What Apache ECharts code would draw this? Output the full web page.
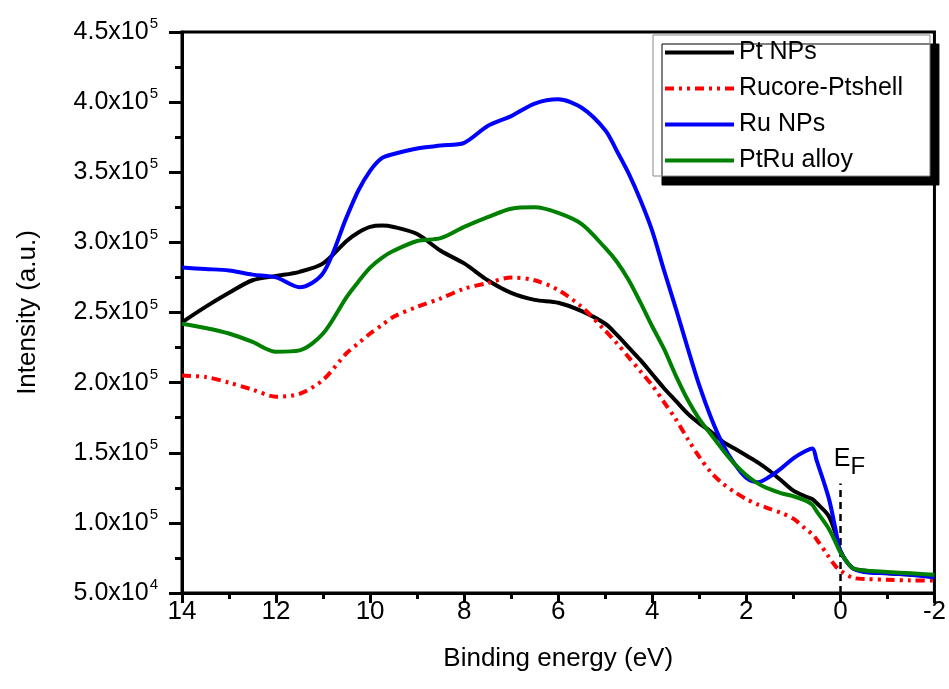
<!DOCTYPE html>
<html>
<head>
<meta charset="utf-8">
<script src="https://cdn.jsdelivr.net/npm/echarts@6/dist/echarts.min.js"></script>
<style>
  html, body { margin: 0; padding: 0; background: #fff; }
  #chart { width: 949px; height: 689px; }
</style>
</head>
<body>
<div id="chart"></div>
<script>
// binding energy (eV)
const energy = [14, 13.5, 13, 12.5, 12, 11.5, 11, 10.5, 10.25, 10, 9.75, 9.5, 9, 8.5, 8, 7.5, 7, 6.5, 6, 5.5, 5, 4.75, 4.5, 4.25, 4, 3.75, 3.5, 3.25, 3, 2.75, 2.5, 2.25, 2, 1.75, 1.5, 1.25, 1, 0.75, 0.6, 0.5, 0.25, 0.1, 0, -0.25, -0.5, -1, -1.5, -2]

// intensities, in units of 1000
const ptNPs = [243, 254, 264, 273, 276, 279, 285, 301, 307, 311, 312, 311, 306, 294, 285, 273, 264, 259, 257, 251, 242, 234, 225, 216, 206, 196, 187, 178, 171, 165, 158, 153, 148, 143, 137, 130, 123, 119, 117, 114, 105, 92, 80, 68, 66, 64, 63, 62]
const rucorePtshell = [205, 204, 200, 195, 190, 192, 202, 221, 228, 235, 241, 247, 254, 260, 267, 271, 275, 273, 266, 254, 237, 228, 218, 208, 198, 186, 174, 160, 147, 136, 128, 122, 117, 113, 110, 107, 103, 96, 92, 88, 76, 69, 66, 61, 60, 59.5, 59, 59]
const ruNPs = [282, 281, 280, 277, 275, 268, 278, 318, 337, 351, 360, 363, 367, 369, 371, 383, 390, 399, 402, 396, 380, 365, 349, 330, 308, 280, 253, 225, 198, 175, 156, 142, 132, 129, 133, 139, 146, 151, 153, 144, 118, 95, 80, 68, 65, 64, 63, 61]
const ptRuAlloy = [242, 239, 235, 229, 222, 223, 235, 261, 272, 282, 289, 294, 301, 303, 311, 318, 324, 325, 321, 313, 296, 286, 273, 257, 240, 224, 205, 188, 174, 163, 152, 142, 134, 128, 124, 121, 119, 116, 113, 108, 96, 86, 79, 68, 66, 65, 64, 63]

const seriesNames = ['Pt NPs', 'Rucore-Ptshell', 'Ru NPs', 'PtRu alloy']
const seriesColors = ['#000000', '#ff0000', '#0000ff', '#008000']
const yTicks = [
  { value: 50000, mant: '5.0', exp: '4' },
  { value: 100000, mant: '1.0', exp: '5' },
  { value: 150000, mant: '1.5', exp: '5' },
  { value: 200000, mant: '2.0', exp: '5' },
  { value: 250000, mant: '2.5', exp: '5' },
  { value: 300000, mant: '3.0', exp: '5' },
  { value: 350000, mant: '3.5', exp: '5' },
  { value: 400000, mant: '4.0', exp: '5' },
  { value: 450000, mant: '4.5', exp: '5' },
]

const font = 'Liberation Sans, Arial, sans-serif'

function pairs(vals) {
  let out = []
  for (let i = 0; i < energy.length; i++) {
    out.push([energy[i], vals[i] * 1000])
  }
  return out
}

function initChart() {
  const myChart = echarts.init(document.getElementById('chart'))
  const allVals = [ptNPs, rucorePtshell, ruNPs, ptRuAlloy]

  let series = []
  for (let i = 0; i < allVals.length; i++) {
    let s = {
      name: seriesNames[i],
      type: 'line',
      data: pairs(allVals[i]),
      symbol: 'none',
      smooth: 0.3,
      lineStyle: { color: seriesColors[i], width: 4 },
      itemStyle: { color: seriesColors[i] },
      z: 3 + i,
    }
    if (i === 1) {
      // dash-dot-dot
      s.lineStyle.type = [9, 5, 3, 5, 3, 5]
    }
    series.push(s)
  }
  // Fermi level marker
  series[0].markLine = {
    silent: true,
    symbol: 'none',
    lineStyle: { color: '#000', type: [7, 5], width: 2.5 },
    label: {
      show: true,
      position: 'end',
      distance: 4,
      formatter: '{e|E}{f|F}',
      rich: {
        e: { fontSize: 25, fontFamily: font, color: '#000', padding: [0, 0, 0, 18] },
        f: { fontSize: 24, fontFamily: font, color: '#000', padding: [16, 0, 0, 0] },
      },
    },
    data: [[{ coord: [0, 50000] }, { coord: [0, 128000] }]],
  }

  const option = {
    animation: false,
    backgroundColor: '#fff',
    grid: {
      left: 182,
      right: 12,
      top: 32,
      bottom: 96,
      show: true,
      borderColor: '#000',
      borderWidth: 3,
      backgroundColor: 'transparent',
    },
    legend: {
      orient: 'vertical',
      left: 653,
      top: 35,
      padding: [5, 27, 3, 10],
      itemGap: 11,
      itemWidth: 69,
      itemHeight: 25,
      backgroundColor: '#fff',
      borderColor: '#888',
      borderWidth: 1,
      shadowColor: '#000',
      shadowBlur: 0,
      shadowOffsetX: 9,
      shadowOffsetY: 9,
      itemStyle: { opacity: 0 },
      lineStyle: { width: 4 },
      textStyle: { fontSize: 25, fontFamily: font, color: '#000' },
      data: seriesNames,
    },
    xAxis: {
      type: 'value',
      inverse: true,
      min: -2,
      max: 14,
      interval: 2,
      name: 'Binding energy (eV)',
      nameLocation: 'middle',
      nameGap: 53,
      nameTextStyle: { fontSize: 26, fontFamily: font, color: '#000' },
      axisLine: { show: true, onZero: false, lineStyle: { color: '#000', width: 3 } },
      axisTick: { show: true, inside: false, length: 10, lineStyle: { width: 3, color: '#000' } },
      minorTick: { show: true, splitNumber: 2, length: 6, lineStyle: { width: 3, color: '#000' } },
      axisLabel: { fontSize: 26, fontFamily: font, color: '#000', margin: 6 },
      splitLine: { show: false },
    },
    yAxis: {
      type: 'value',
      min: 50000,
      max: 450000,
      interval: 50000,
      name: 'Intensity (a.u.)',
      nameLocation: 'middle',
      nameGap: 141,
      nameTextStyle: { fontSize: 26, fontFamily: font, color: '#000' },
      axisLine: { show: true, onZero: false, lineStyle: { color: '#000', width: 3 } },
      axisTick: { show: true, inside: false, length: 13, lineStyle: { width: 3, color: '#000' } },
      minorTick: { show: true, splitNumber: 2, length: 7, lineStyle: { width: 3, color: '#000' } },
      axisLabel: {
        margin: 24,
        formatter: function (v) {
          for (let t of yTicks) {
            if (t.value === v) return '{m|' + t.mant + 'x10}{s|' + t.exp + '}'
          }
          return ''
        },
        rich: {
          m: { fontSize: 25, fontFamily: font, color: '#000' },
          s: { fontSize: 15, fontFamily: font, color: '#000', padding: [0, 0, 16, 1] },
        },
      },
      splitLine: { show: false },
    },
    series: series,
  }
  myChart.setOption(option)
}

initChart()
</script>
</body>
</html>
